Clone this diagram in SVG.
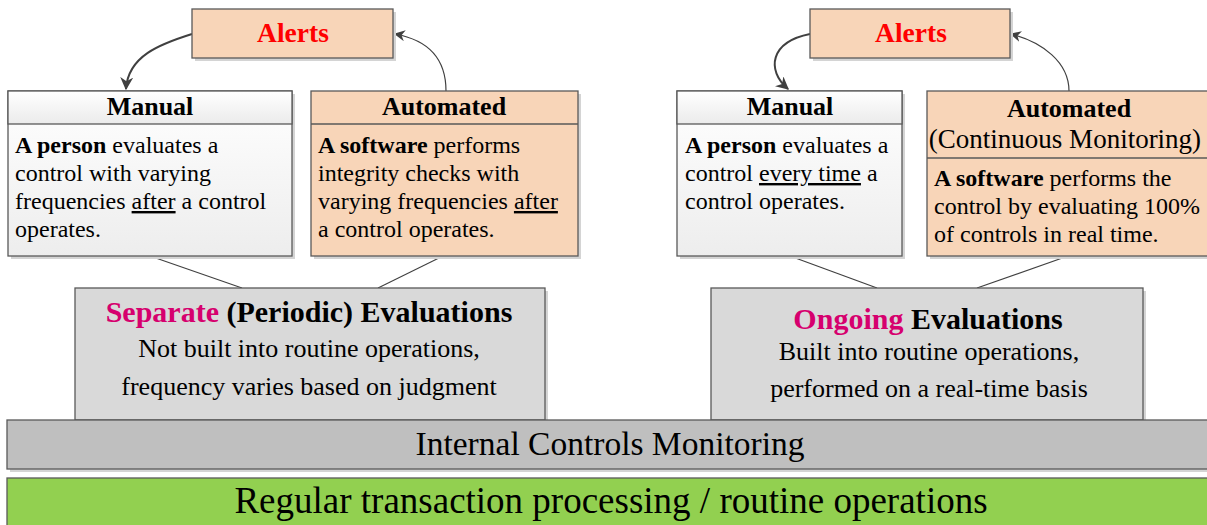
<svg xmlns="http://www.w3.org/2000/svg" width="1207" height="525" viewBox="0 0 1207 525" font-family="Liberation Serif, Times New Roman, serif">
<style>
text{font-family:"Liberation Serif","Times New Roman",serif;fill:#000}
.box{stroke:#595959;stroke-width:1.3}
.sh{fill:#d4d4d4}
.peach{fill:#f8d5b8}
.alert{font-size:27.5px;font-weight:bold;fill:#ff0000;text-anchor:middle}
.hdr{font-size:26px;font-weight:bold;text-anchor:middle}
.body{font-size:24px}
.b{font-weight:bold}
.u{text-decoration:underline}
.conn{fill:none;stroke:#404040}
.eh{font-size:30px;font-weight:bold;text-anchor:middle}
.es{font-size:26px;text-anchor:middle}
.mag{fill:#d6006e}
</style>
<defs>
<linearGradient id="gHdr" x1="0" y1="0" x2="0" y2="1"><stop offset="0" stop-color="#ffffff"/><stop offset="1" stop-color="#ebebeb"/></linearGradient>
<linearGradient id="gBody" x1="0" y1="0" x2="0" y2="1"><stop offset="0" stop-color="#ffffff"/><stop offset="1" stop-color="#ededed"/></linearGradient>
<marker id="ah" viewBox="0 0 10 10" refX="9" refY="5" markerWidth="11" markerHeight="11" markerUnits="userSpaceOnUse" orient="auto"><path d="M0,0 L10,5 L0,10 L3,5 Z" fill="#404040"/></marker>
<marker id="ah2" viewBox="0 0 10 10" refX="9" refY="5" markerWidth="13" markerHeight="13" markerUnits="userSpaceOnUse" orient="auto"><path d="M0,0 L10,5 L0,10 L3,5 Z" fill="#404040"/></marker>
</defs>

<g id="connectors">
<path class="conn" stroke-width="2" d="M192,34 C160,44 128,56 126,89" marker-end="url(#ah2)"/>
<path class="conn" stroke-width="1.2" d="M446,91 C446,58 428,40 395,34" marker-end="url(#ah)"/>
<path class="conn" stroke-width="2" d="M810,34 C770,42 766,70 788,89" marker-end="url(#ah2)"/>
<path class="conn" stroke-width="1.2" d="M1069,91 C1069,62 1042,42 1011,34" marker-end="url(#ah)"/>
<line class="conn" stroke-width="1.2" x1="150" y1="256" x2="242" y2="288"/>
<line class="conn" stroke-width="1.2" x1="443" y1="256" x2="378" y2="288"/>
<line class="conn" stroke-width="1.2" x1="790" y1="256" x2="877" y2="288"/>
<line class="conn" stroke-width="1.2" x1="1068" y1="256" x2="977" y2="288"/>
</g>

<g id="alerts-left">
<rect class="sh" x="195" y="12" width="201" height="49"/>
<rect class="box peach" x="192" y="9" width="201" height="49"/>
<text class="alert" x="293" y="42">Alerts</text>
</g>

<g id="manual-left">
<rect class="sh" x="11" y="94" width="284" height="165"/>
<rect class="box" fill="url(#gBody)" x="8" y="91" width="284" height="165"/>
<rect class="box" fill="url(#gHdr)" x="8" y="91" width="284" height="33"/>
<text class="hdr" x="150" y="115">Manual</text>
<text class="body" x="15"><tspan y="153"><tspan class="b">A person</tspan> evaluates a</tspan><tspan x="15" y="181">control with varying</tspan><tspan x="15" y="209">frequencies <tspan class="u">after</tspan> a control</tspan><tspan x="15" y="237">operates.</tspan></text>
</g>

<g id="automated-left">
<rect class="sh" x="314" y="94" width="267" height="165"/>
<rect class="box peach" x="311" y="91" width="267" height="165"/>
<line class="box" x1="311" y1="124" x2="578" y2="124"/>
<text class="hdr" x="444" y="115">Automated</text>
<text class="body" x="318"><tspan y="153"><tspan class="b">A software</tspan> performs</tspan><tspan x="318" y="181">integrity checks with</tspan><tspan x="318" y="209">varying frequencies <tspan class="u">after</tspan></tspan><tspan x="318" y="237">a control operates.</tspan></text>
</g>

<g id="separate">
<rect class="sh" x="78" y="291" width="470" height="132"/>
<rect class="box" fill="#d9d9d9" x="75" y="288" width="470" height="132"/>
<text class="eh" x="309" y="322"><tspan class="mag">Separate</tspan> (Periodic) Evaluations</text>
<text class="es" x="309" y="357">Not built into routine operations,</text>
<text class="es" x="309" y="395">frequency varies based on judgment</text>
</g>

<g id="alerts-right">
<rect class="sh" x="813" y="12" width="200" height="49"/>
<rect class="box peach" x="810" y="9" width="200" height="49"/>
<text class="alert" x="911" y="42">Alerts</text>
</g>

<g id="manual-right">
<rect class="sh" x="680" y="94" width="225" height="165"/>
<rect class="box" fill="url(#gBody)" x="677" y="91" width="225" height="165"/>
<rect class="box" fill="url(#gHdr)" x="677" y="91" width="225" height="33"/>
<text class="hdr" x="790" y="115">Manual</text>
<text class="body" x="685"><tspan y="153"><tspan class="b">A person</tspan> evaluates a</tspan><tspan x="685" y="181">control <tspan class="u">every time</tspan> a</tspan><tspan x="685" y="209">control operates.</tspan></text>
</g>

<g id="automated-right">
<rect class="sh" x="930" y="94" width="282" height="165"/>
<rect class="box peach" x="927" y="91" width="282" height="165"/>
<line class="box" x1="927" y1="158" x2="1209" y2="158"/>
<text class="hdr" x="1069" y="117">Automated</text>
<text x="1065" y="148" font-size="27" text-anchor="middle">(Continuous Monitoring)</text>
<text class="body" x="934"><tspan y="186"><tspan class="b">A software</tspan> performs the</tspan><tspan x="934" y="214">control by evaluating 100%</tspan><tspan x="934" y="242">of controls in real time.</tspan></text>
</g>

<g id="ongoing">
<rect class="sh" x="714" y="291" width="432" height="132"/>
<rect class="box" fill="#d9d9d9" x="711" y="288" width="432" height="132"/>
<text class="eh" x="928" y="329"><tspan class="mag">Ongoing</tspan> Evaluations</text>
<text class="es" x="929" y="360">Built into routine operations,</text>
<text class="es" x="929" y="397">performed on a real-time basis</text>
</g>

<g id="monitoring">
<rect class="sh" x="10" y="423" width="1200" height="49"/>
<rect class="box" fill="#bfbfbf" x="7" y="420" width="1202" height="49"/>
<text x="610" y="455" font-size="33.5" text-anchor="middle">Internal Controls Monitoring</text>
</g>

<g id="routine">
<rect class="box" fill="#92d050" x="7" y="478" width="1202" height="50"/>
<text x="611" y="513" font-size="37" text-anchor="middle">Regular transaction processing / routine operations</text>
</g>
</svg>
